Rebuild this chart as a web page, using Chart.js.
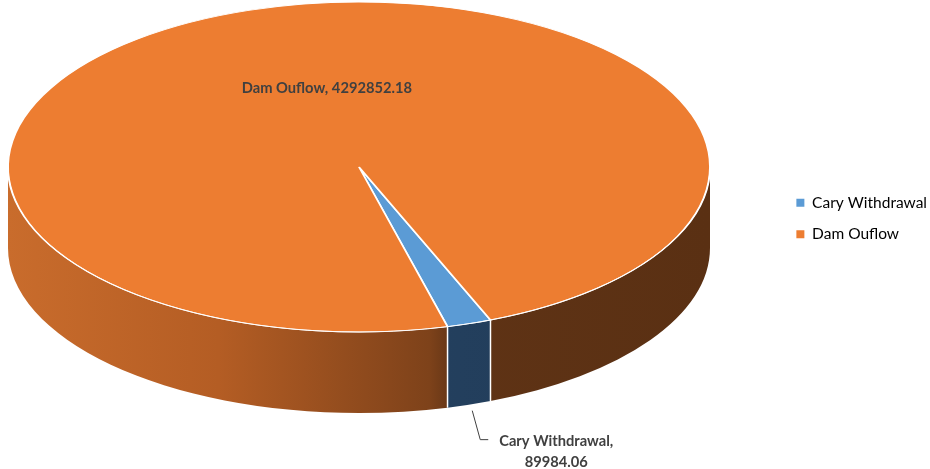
<!DOCTYPE html>
<html lang="en">
<head>
<meta charset="UTF-8">
<title>Dam Outflow vs Cary Withdrawal</title>
<script src="https://cdn.jsdelivr.net/npm/chart.js"></script>
<style>
    body { margin: 0; background: #fff; }
    .chart-container { position: relative; width: 930px; height: 469px; }
</style>
</head>
<body>
<div class="chart-container">
    <canvas id="pieChart"></canvas>
</div>
<script>
const categories = ['Cary Withdrawal', 'Dam Ouflow'];
const values = [89984.06, 4292852.18];
const topColors = ['#5B9BD5', '#ED7D31'];

// where the tilted pie sits on the page
const PIE = { cx: 359, cy: 167, rx: 351, ry: 165, depth: 81 };

function sideFill(ctx, i) {
    const g = ctx.createLinearGradient(PIE.cx - PIE.rx, 0, PIE.cx + PIE.rx, 0);
    if (i === 0) {
        g.addColorStop(0, '#2a4868');
        g.addColorStop(1, '#1f3a57');
    } else {
        g.addColorStop(0, '#c96c2c');
        g.addColorStop(0.3, '#b45d24');
        g.addColorStop(0.6, '#7e421a');
        g.addColorStop(0.64, '#5f3315');
        g.addColorStop(1, '#5a3013');
    }
    return g;
}

function ellPoint(a, dy) {
    return [PIE.cx + PIE.rx * Math.cos(a), PIE.cy + (dy || 0) + PIE.ry * Math.sin(a)];
}

const pie3d = {
    id: 'pie3d',
    beforeDatasetsDraw(chart) {
        const ctx = chart.ctx;
        const arcs = chart.getDatasetMeta(0).data;
        ctx.save();
        // sides of the front half
        arcs.forEach((arc, i) => {
            const s = arc.startAngle, e = arc.endAngle;
            for (let off = 0; off <= 4 * Math.PI; off += 2 * Math.PI) {
                const lo = Math.max(s, off), hi = Math.min(e, off + Math.PI);
                if (hi <= lo) continue;
                ctx.beginPath();
                ctx.ellipse(PIE.cx, PIE.cy, PIE.rx, PIE.ry, 0, lo, hi);
                ctx.ellipse(PIE.cx, PIE.cy + PIE.depth, PIE.rx, PIE.ry, 0, hi, lo, true);
                ctx.closePath();
                ctx.fillStyle = sideFill(ctx, i);
                ctx.fill();
            }
        });
        // white edges between slices on the side
        ctx.strokeStyle = '#ffffff';
        ctx.lineWidth = 1.5;
        arcs.forEach(arc => {
            const a = ((arc.startAngle % (2 * Math.PI)) + 2 * Math.PI) % (2 * Math.PI);
            if (a > 0 && a < Math.PI) {
                const p = ellPoint(a), q = ellPoint(a, PIE.depth);
                ctx.beginPath();
                ctx.moveTo(p[0], p[1]);
                ctx.lineTo(q[0], q[1]);
                ctx.stroke();
            }
        });
        ctx.restore();

        // squash the flat pie into the top face
        const a0 = arcs[0];
        ctx.save();
        ctx.translate(PIE.cx, PIE.cy);
        ctx.scale(PIE.rx / a0.outerRadius, PIE.ry / a0.outerRadius);
        ctx.translate(-a0.x, -a0.y);
    },
    afterDatasetsDraw(chart) {
        const ctx = chart.ctx;
        ctx.restore();
        // light rim on the front edge
        ctx.save();
        ctx.strokeStyle = 'rgba(255,255,255,0.85)';
        ctx.lineWidth = 1;
        ctx.beginPath();
        ctx.ellipse(PIE.cx, PIE.cy, PIE.rx, PIE.ry, 0, 0, Math.PI);
        ctx.stroke();
        ctx.restore();
    },
    afterDraw(chart) {
        const ctx = chart.ctx;
        const arcs = chart.getDatasetMeta(0).data;
        ctx.save();
        ctx.fillStyle = '#404040';
        ctx.font = 'bold 14.7px Lato, "Open Sans", sans-serif';
        ctx.textBaseline = 'middle';

        // big slice: label inside the top face
        const big = arcs[1];
        const midB = (big.startAngle + big.endAngle) / 2;
        const pb = [PIE.cx + 0.5 * PIE.rx * Math.cos(midB) + 23, PIE.cy + 0.5 * PIE.ry * Math.sin(midB)];
        ctx.textAlign = 'center';
        ctx.fillText(categories[1] + ', ' + values[1], pb[0], pb[1]);

        // small slice: label below with a leader line
        const sm = arcs[0];
        const midS = (sm.startAngle + sm.endAngle) / 2;
        const q = ellPoint(midS, PIE.depth + 6);
        ctx.strokeStyle = '#404040';
        ctx.lineWidth = 1;
        ctx.beginPath();
        ctx.moveTo(q[0] + 3, q[1]);
        ctx.lineTo(q[0] + 11, q[1] + 29);
        ctx.lineTo(q[0] + 19, q[1] + 29);
        ctx.stroke();
        ctx.fillText(categories[0] + ',', q[0] + 87, q[1] + 31);
        ctx.fillText(String(values[0]), q[0] + 87, q[1] + 52);
        ctx.restore();
    }
};

const ctx = document.getElementById('pieChart').getContext('2d');
new Chart(ctx, {
    type: 'pie',
    data: {
        labels: categories,
        datasets: [{
            data: values,
            backgroundColor: topColors,
            borderColor: '#ffffff',
            borderWidth: 1.2
        }]
    },
    options: {
        responsive: true,
        maintainAspectRatio: false,
        animation: false,
        events: [],
        rotation: 158,
        layout: { padding: { bottom: 32, right: -7 } },
        plugins: {
            tooltip: { enabled: false },
            legend: {
                position: 'right',
                align: 'center',
                labels: {
                    boxWidth: 8,
                    boxHeight: 8,
                    padding: 16,
                    color: '#595959',
                    font: { family: 'Lato, "Open Sans", sans-serif', size: 15.5 },
                    generateLabels(chart) {
                        return chart.data.labels.map((l, i) => ({
                            text: l,
                            fillStyle: topColors[i],
                            strokeStyle: topColors[i],
                            lineWidth: 0,
                            index: i
                        }));
                    }
                }
            }
        }
    },
    plugins: [pie3d]
});
</script>
</body>
</html>
